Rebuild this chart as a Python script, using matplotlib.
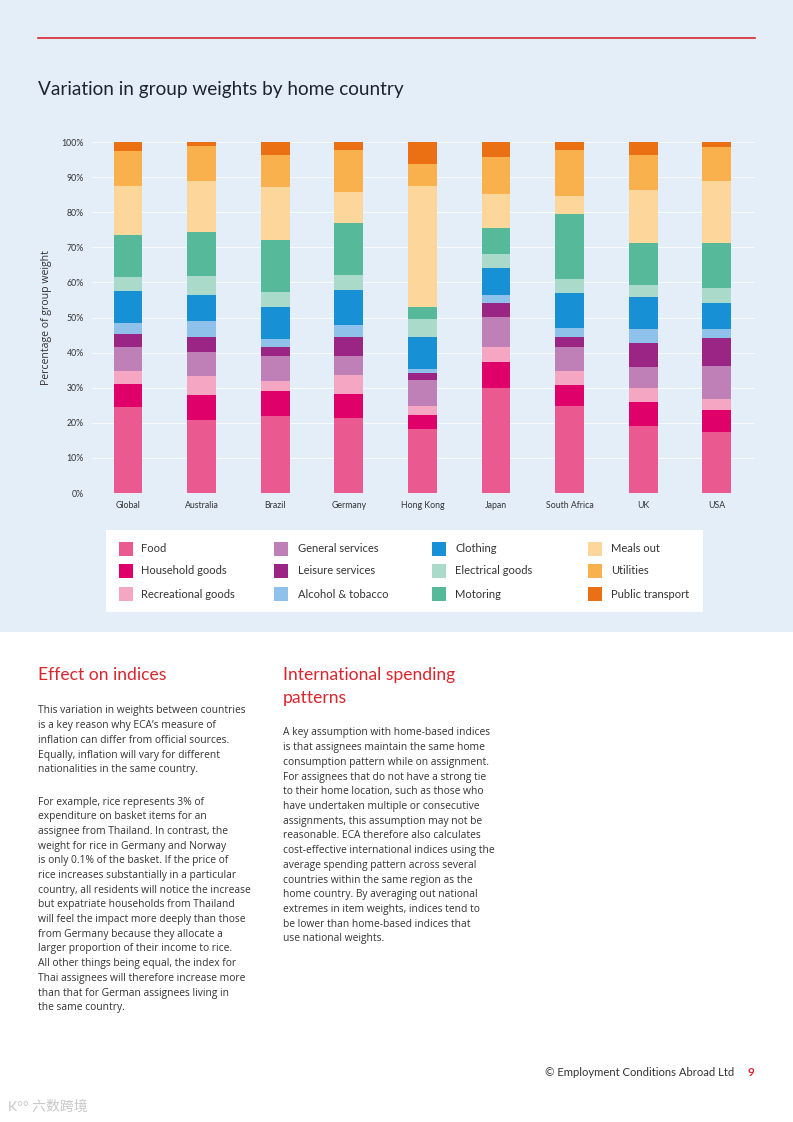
import matplotlib
matplotlib.use("Agg")
import matplotlib.pyplot as plt
from matplotlib.patches import Rectangle
from matplotlib.lines import Line2D
import numpy as np

plt.rcParams['font.family'] = ['Lato', 'Noto Sans CJK SC', 'DejaVu Sans']
BODY_FONT = ['Open Sans', 'DejaVu Sans']

countries = ["Global", "Australia", "Brazil", "Germany", "Hong Kong", "Japan",
             "South Africa", "UK", "USA"]
groups = ["Food", "Household goods", "Recreational goods", "General services",
          "Leisure services", "Alcohol & tobacco", "Clothing", "Electrical goods",
          "Motoring", "Meals out", "Utilities", "Public transport"]
colors = ["#EA5A91", "#E0006A", "#F4A6C3", "#BE80B7", "#9A2584", "#8EC2EA",
          "#1790D6", "#AADAC9", "#56B99A", "#FDD69C", "#F8B14D", "#EB7014"]

food          = [24.4, 20.7, 22.0, 21.5, 18.2, 29.9, 24.8, 19.1, 17.5]
household     = [6.7, 7.3, 7.1, 6.7, 3.9, 7.3, 6.1, 6.9, 6.2]
recreational  = [3.7, 5.4, 2.9, 5.4, 2.7, 4.3, 3.8, 4.0, 3.0]
general_serv  = [6.7, 6.9, 7.1, 5.4, 7.4, 8.7, 7.0, 6.0, 9.5]
leisure       = [3.8, 4.2, 2.4, 5.5, 2.1, 4.0, 2.8, 6.8, 8.0]
alcohol       = [3.0, 4.6, 2.3, 3.4, 1.1, 2.1, 2.5, 3.9, 2.4]
clothing      = [9.3, 7.4, 9.3, 10.0, 9.1, 7.7, 10.1, 9.0, 7.6]
electrical    = [4.0, 5.3, 4.3, 4.2, 5.0, 4.0, 4.0, 3.5, 4.1]
motoring      = [11.8, 12.6, 14.6, 14.9, 3.4, 7.4, 18.5, 11.9, 12.8]
meals_out     = [14.0, 14.5, 15.2, 8.8, 34.5, 9.9, 4.9, 15.3, 17.8]
utilities     = [10.0, 9.9, 9.0, 11.8, 6.2, 10.4, 13.1, 9.8, 9.7]
public_trans  = [2.6, 1.2, 3.8, 2.4, 6.4, 4.3, 2.4, 3.8, 1.4]

series = [food, household, recreational, general_serv, leisure, alcohol,
          clothing, electrical, motoring, meals_out, utilities, public_trans]

yticks = [0, 10, 20, 30, 40, 50, 60, 70, 80, 90, 100]
ytick_labels = ["0%", "10%", "20%", "30%", "40%", "50%", "60%", "70%", "80%", "90%", "100%"]

W, H = 793, 1122
fig = plt.figure(figsize=(W / 100, H / 100), dpi=100)
fig.patch.set_facecolor("white")

def fx(px):
    return px / W

def fy(py):
    return 1 - py / H

# light blue top panel
fig.add_artist(Rectangle((0, fy(632)), 1, 1 - fy(632), transform=fig.transFigure,
                         facecolor="#E4EEF9", edgecolor="none", zorder=0))
# red rule
fig.add_artist(Line2D([fx(38), fx(755)], [fy(38), fy(38)], transform=fig.transFigure,
                      color="#D9262E", lw=1.2, zorder=1))

fig.text(fx(38), fy(89), "Variation in group weights by home country", fontsize=13.7,
         color="#1E2330", va="center", ha="left")

ax = fig.add_axes([fx(92), fy(493), fx(755) - fx(92), fy(142) - fy(493)])
ax.set_facecolor("none")
x = np.arange(len(countries))
bottom = np.zeros(len(countries))
for vals, col, name in zip(series, colors, groups):
    ax.bar(x, vals, width=0.39, bottom=bottom, color=col, label=name, zorder=3,
           linewidth=0)
    bottom += np.array(vals)

ax.set_xlim(-0.49, 8.52)
ax.set_ylim(0, 100)
ax.set_yticks(yticks)
ax.set_yticklabels(ytick_labels)
ax.set_xticks(x)
ax.set_xticklabels(countries)
ax.tick_params(axis="both", length=0, labelsize=6.3, colors="#333333")
ax.tick_params(axis="x", pad=6)
ax.tick_params(axis="y", pad=6)
for s in ax.spines.values():
    s.set_visible(False)
ax.yaxis.grid(True, color="white", lw=0.7, alpha=0.8, zorder=0)
ax.set_axisbelow(True)
ax.set_ylabel("Percentage of group weight", fontsize=7.6, color="#333333",
              family=BODY_FONT)
ax.yaxis.set_label_coords((52 - 92) / 663, 0.5)

# legend box
fig.add_artist(Rectangle((fx(106), fy(612)), fx(703) - fx(106), fy(530) - fy(612),
                         transform=fig.transFigure, facecolor="white",
                         edgecolor="none", zorder=1))
col_sw = [119, 274, 432, 588]
col_tx = [141, 298, 455, 611]
row_y = [549, 571, 594]
for i, (name, col) in enumerate(zip(groups, colors)):
    c, r = divmod(i, 3)
    fig.add_artist(Rectangle((fx(col_sw[c]), fy(row_y[r] + 7)), fx(14), 14 / H,
                             transform=fig.transFigure, facecolor=col,
                             edgecolor="none", zorder=2))
    fig.text(fx(col_tx[c]), fy(row_y[r]), name, fontsize=8, color="#333333",
             va="center", ha="left", zorder=3)

red = "#D9262E"
body_color = "#333333"
fs_body = 7.4
lh = 14.7

fig.text(fx(38), fy(675), "Effect on indices", fontsize=12.6, color=red,
         va="center", ha="left")
fig.text(fx(283), fy(675), "International spending", fontsize=12.6, color=red,
         va="center", ha="left")
fig.text(fx(283), fy(698), "patterns", fontsize=12.6, color=red,
         va="center", ha="left")

left1 = ["This variation in weights between countries",
         "is a key reason why ECA\u2019s measure of",
         "inflation can differ from official sources.",
         "Equally, inflation will vary for different",
         "nationalities in the same country."]
left2 = ["For example, rice represents 3% of",
         "expenditure on basket items for an",
         "assignee from Thailand. In contrast, the",
         "weight for rice in Germany and Norway",
         "is only 0.1% of the basket. If the price of",
         "rice increases substantially in a particular",
         "country, all residents will notice the increase",
         "but expatriate households from Thailand",
         "will feel the impact more deeply than those",
         "from Germany because they allocate a",
         "larger proportion of their income to rice.",
         "All other things being equal, the index for",
         "Thai assignees will therefore increase more",
         "than that for German assignees living in",
         "the same country."]
right1 = ["A key assumption with home-based indices",
          "is that assignees maintain the same home",
          "consumption pattern while on assignment.",
          "For assignees that do not have a strong tie",
          "to their home location, such as those who",
          "have undertaken multiple or consecutive",
          "assignments, this assumption may not be",
          "reasonable. ECA therefore also calculates",
          "cost-effective international indices using the",
          "average spending pattern across several",
          "countries within the same region as the",
          "home country. By averaging out national",
          "extremes in item weights, indices tend to",
          "be lower than home-based indices that",
          "use national weights."]

def block(lines, x0, y0):
    for i, ln in enumerate(lines):
        fig.text(fx(x0), fy(y0 + i * lh), ln, fontsize=fs_body, color=body_color,
                 va="center", ha="left", family=BODY_FONT)

block(left1, 38, 711)
block(left2, 38, 802)
block(right1, 283, 733)

fig.text(fx(734), fy(1073), "\u00a9 Employment Conditions Abroad Ltd", fontsize=8.1,
         color="#333333", va="center", ha="right")
fig.text(fx(748), fy(1073), "9", fontsize=8.5, color=red, fontweight="bold",
         va="center", ha="left")
fig.text(fx(8), fy(1106), "K\u00b0\u00b0 \u516d\u6570\u8de8\u5883", fontsize=10,
         color="#C8C8C8", va="center", ha="left")

fig.savefig("out.png", dpi=100, facecolor=fig.get_facecolor())
